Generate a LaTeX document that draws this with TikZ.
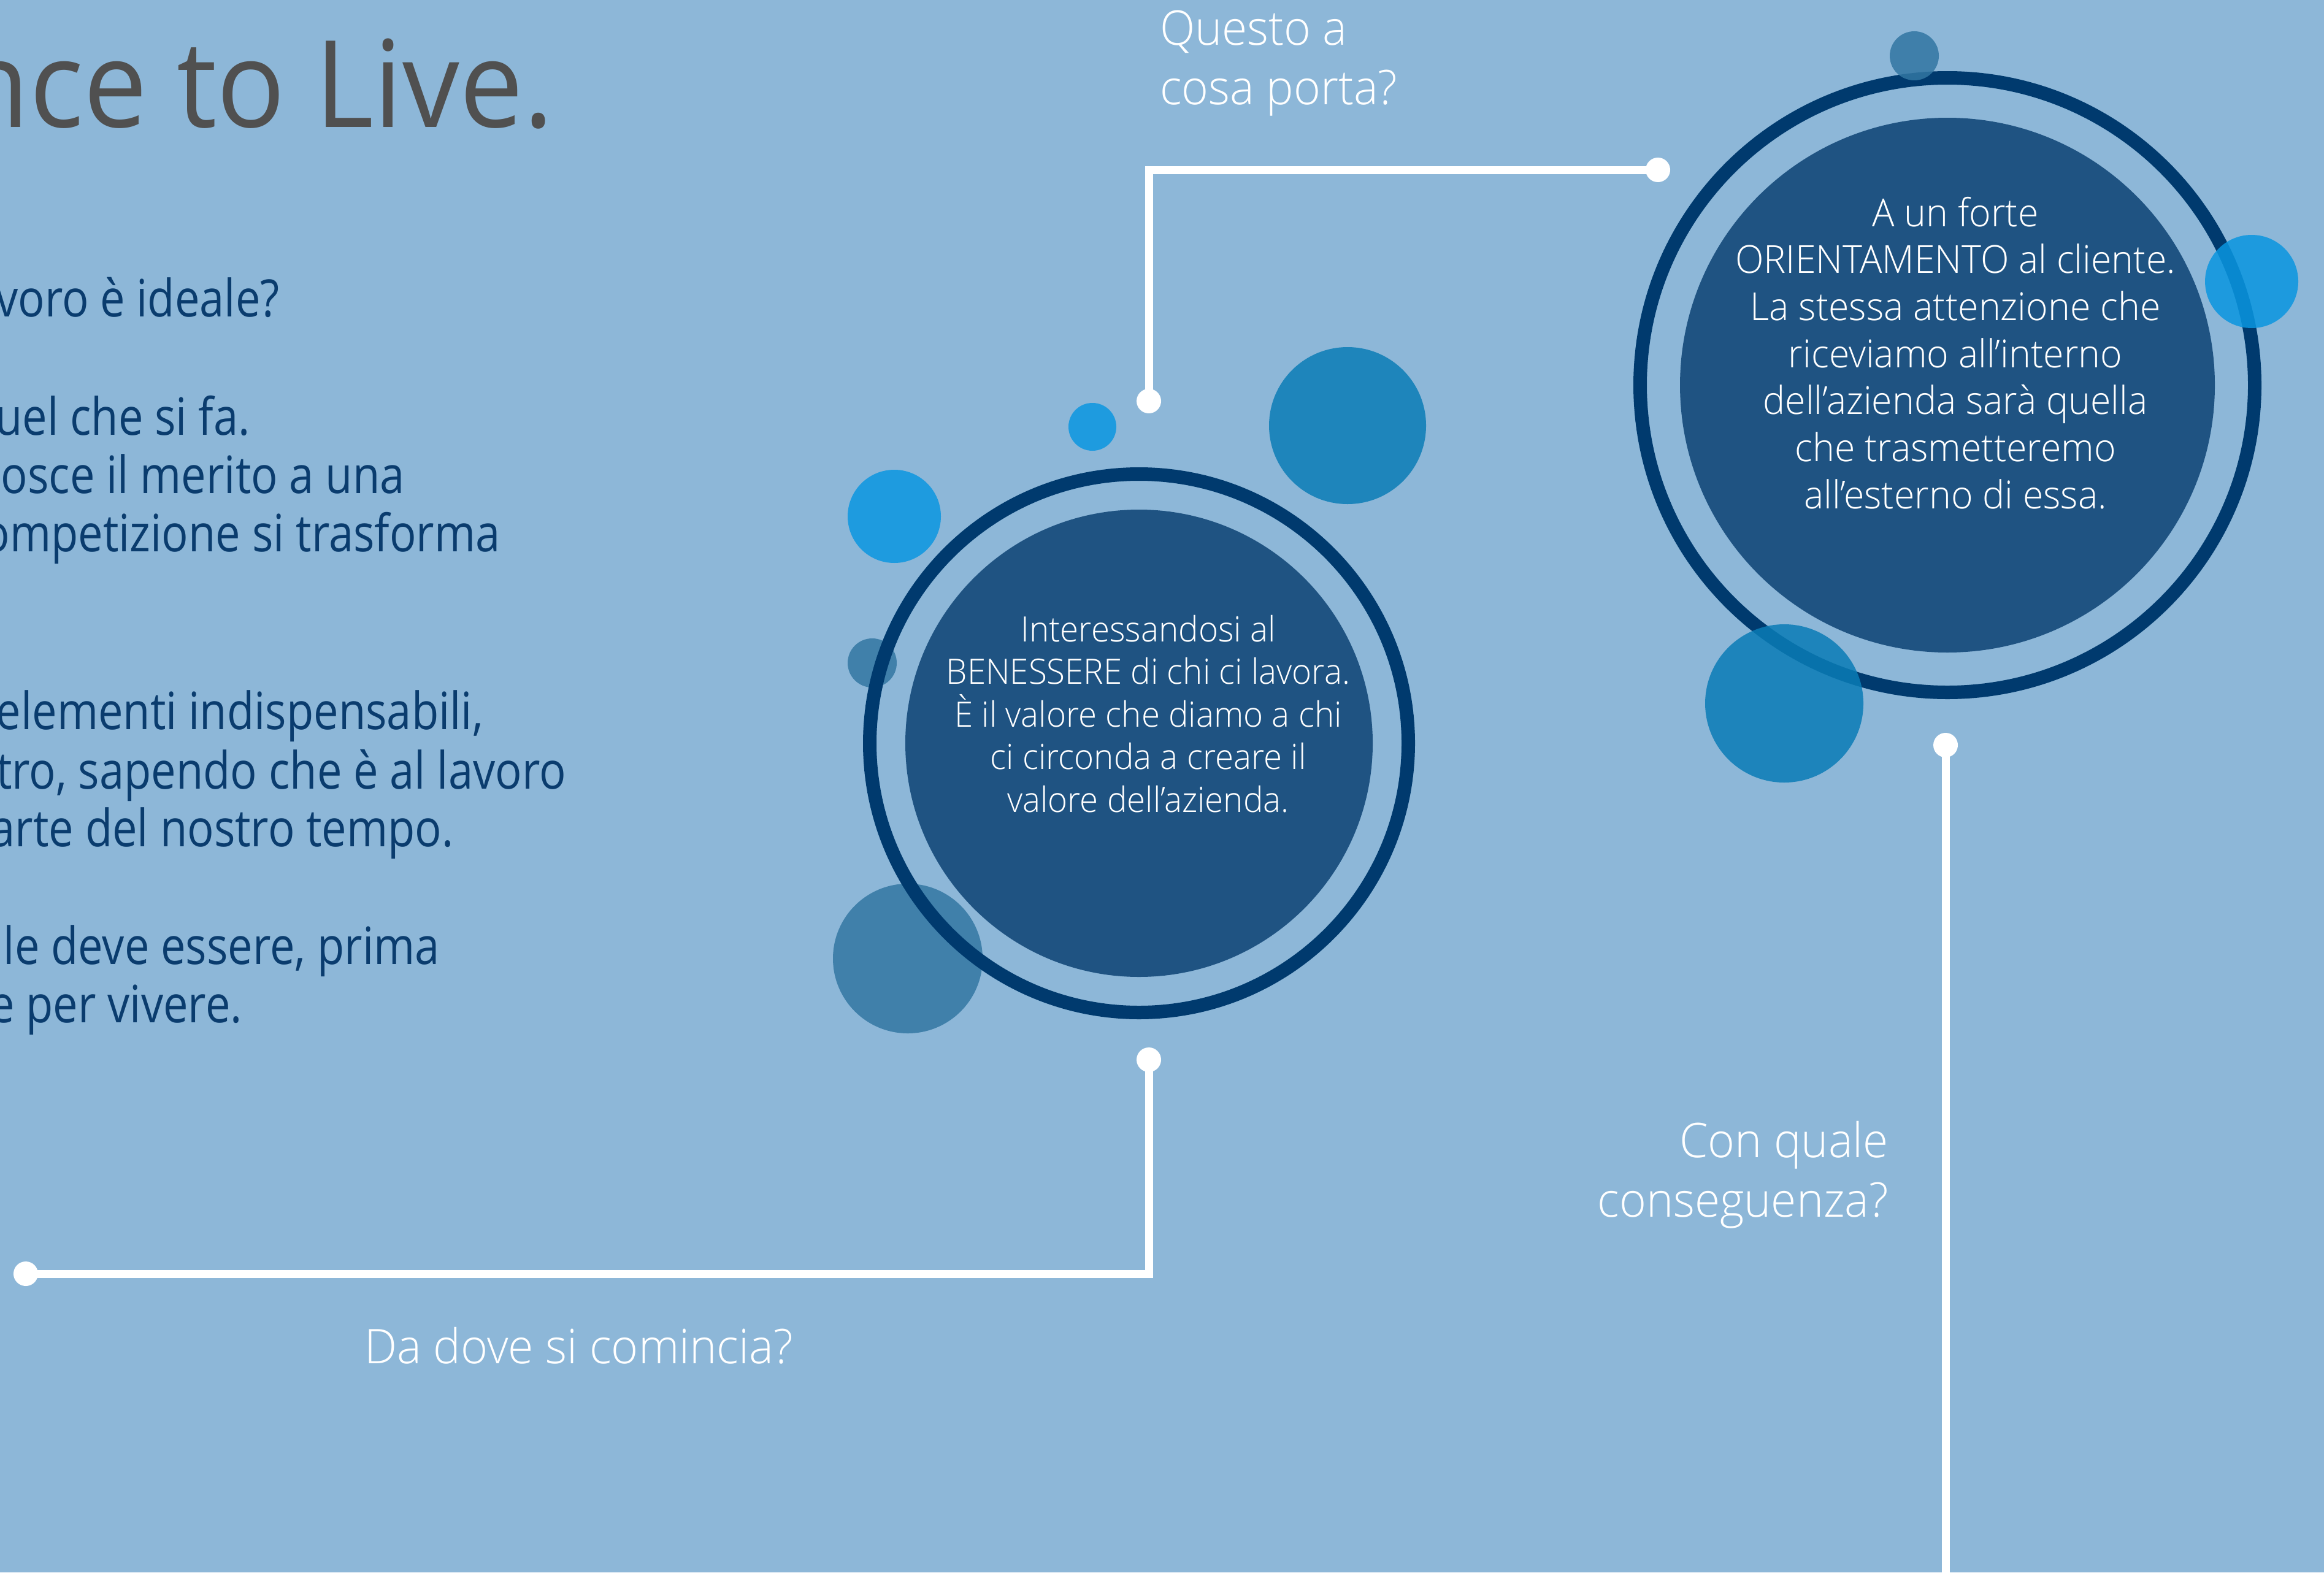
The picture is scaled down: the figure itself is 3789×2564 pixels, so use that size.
\documentclass[tikz,border=0pt]{standalone}
\usepackage{fontspec}
\setmainfont{Open Sans}
\newfontfamily\lightfont{Open Sans Light}
\definecolor{bgc}{RGB}{141,183,216}
\definecolor{ringc}{RGB}{0,58,110}
\definecolor{diskc}{RGB}{31,83,130}
\definecolor{titlec}{RGB}{80,80,80}
\definecolor{bodyc}{RGB}{10,60,110}
\definecolor{bubA}{RGB}{30,155,223}
\definecolor{bubB}{RGB}{30,133,187}
\definecolor{bubC}{RGB}{64,128,170}
\definecolor{bubAt}{RGB}{10,150,224}
\definecolor{bubBt}{RGB}{10,124,182}
\definecolor{bubCt}{RGB}{50,118,162}
\newcommand{\nar}[2]{\scalebox{#1}[1]{#2}}
\begin{document}
\begin{tikzpicture}[x=1pt,y=-1pt,
  ringnode/.style={circle,draw=ringc,line width=22pt,inner sep=0pt,outer sep=0pt},
  disknode/.style={circle,fill=diskc,inner sep=0pt,outer sep=0pt},
  bubble/.style={circle,inner sep=0pt,outer sep=0pt},
  wdot/.style={circle,fill=white,inner sep=0pt,outer sep=0pt,minimum size=40pt},
  wline/.style={draw=white,line width=13pt,line join=miter},
  bodytext/.style={anchor=base east,inner sep=0pt,text=bodyc,font=\fontsize{84}{95}\selectfont},
  qlabel/.style={inner sep=0pt,text=white,font=\lightfont\fontsize{78}{96}\selectfont},
  inone/.style={anchor=base,inner sep=0pt,text=white,font=\lightfont\fontsize{57}{70}\selectfont},
  intwo/.style={anchor=base,inner sep=0pt,text=white,font=\lightfont\fontsize{63}{77}\selectfont}
]
\clip (0,0) rectangle (3789,2564);
\fill[bgc] (0,0) rectangle (3789,2564);

% title
\node[anchor=base east,inner sep=0pt,text=titlec,font=\fontsize{197}{200}\selectfont] (title) at (903,207) {\nar{0.94}{nce to Live.}};

% left body text
\node[bodytext] (t1) at (456,516) {\nar{0.86}{voro è ideale?}};
\node[bodytext] (t2) at (408,709) {\nar{0.86}{uel che si fa.}};
\node[bodytext] (t3) at (660,804) {\nar{0.86}{nosce il merito a una}};
\node[bodytext] (t4) at (816,899) {\nar{0.86}{ompetizione si trasforma}};
\node[bodytext] (t5) at (788,1189) {\nar{0.86}{elementi indispensabili,}};
\node[bodytext] (t6) at (923,1286) {\nar{0.86}{tro, sapendo che è al lavoro}};
\node[bodytext] (t7) at (740,1380) {\nar{0.86}{arte del nostro tempo.}};
\node[bodytext] (t8) at (717,1572) {\nar{0.86}{ale deve essere, prima}};
\node[bodytext] (t9) at (395,1667) {\nar{0.86}{e per vivere.}};

% bubbles around first circle (under the ring)
\node[bubble,fill=bubA,minimum size=152pt] (b1) at (1458,842) {};
\node[bubble,fill=bubC,minimum size=80pt] (b2) at (1422,1081) {};
\node[bubble,fill=bubC,minimum size=244pt] (b3) at (1480,1563) {};
\node[bubble,fill=bubA,minimum size=78pt] (b7) at (1781,696) {};
\node[bubble,fill=bubB,minimum size=256pt] (b8) at (2197,694) {};

% first circle
\node[disknode,minimum size=762pt] (c1) at (1857,1212) {};
\node[ringnode,minimum size=878pt] (r1) at (1857,1212) {};
\foreach \t [count=\i] in {Interessandosi al,BENESSERE di chi ci lavora.,È il valore che diamo a chi,ci circonda a creare il,valore dell’azienda.}
  \node[inone] (c1l\i) at (1872,{1046+(\i-1)*69.5}) {\nar{0.96}{\t}};

% second circle
\node[disknode,minimum size=872pt] (c2) at (3175,628) {};
\node[ringnode,minimum size=1002pt] (r2) at (3175,628) {};
\foreach \t [count=\i] in {A un forte,ORIENTAMENTO al cliente.,La stessa attenzione che,riceviamo all’interno,dell’azienda sarà quella,che trasmetteremo,all’esterno di essa.}
  \node[intwo] (c2l\i) at (3188,{369+(\i-1)*76.67}) {\nar{0.965}{\t}};

% translucent bubbles on the second circle
\node[bubble,fill=bubCt,fill opacity=0.85,minimum size=80pt] (b4) at (3121,91) {};
\node[bubble,fill=bubAt,fill opacity=0.85,minimum size=152pt] (b5) at (3671,459) {};
\node[bubble,fill=bubBt,fill opacity=0.85,minimum size=258pt] (b6) at (2909,1147) {};

% connectors
\node[wdot] (d1) at (1873,654) {};
\node[wdot] (d2) at (2703,277) {};
\node[wdot] (d3) at (1873,1728) {};
\node[wdot] (d4) at (42,2077) {};
\node[wdot] (d5) at (3172,1215) {};
\coordinate (e5) at (3172,2600);
\draw[wline] (d1.center) |- (d2.center);
\draw[wline] (d3.center) |- (d4.center);
\draw[wline] (d5.center) -- (e5);

% question labels
\node[qlabel,anchor=base west] (q1a) at (1891,74) {\nar{0.96}{Questo a}};
\node[qlabel,anchor=base west] (q1b) at (1891,170) {\nar{0.96}{cosa porta?}};
\node[qlabel,anchor=base west] (q2) at (594,2223) {\nar{0.965}{Da dove si comincia?}};
\node[qlabel,anchor=base east] (q3a) at (3079,1887) {\nar{0.96}{Con quale}};
\node[qlabel,anchor=base east] (q3b) at (3079,1984) {\nar{0.96}{conseguenza?}};
\end{tikzpicture}
\end{document}
